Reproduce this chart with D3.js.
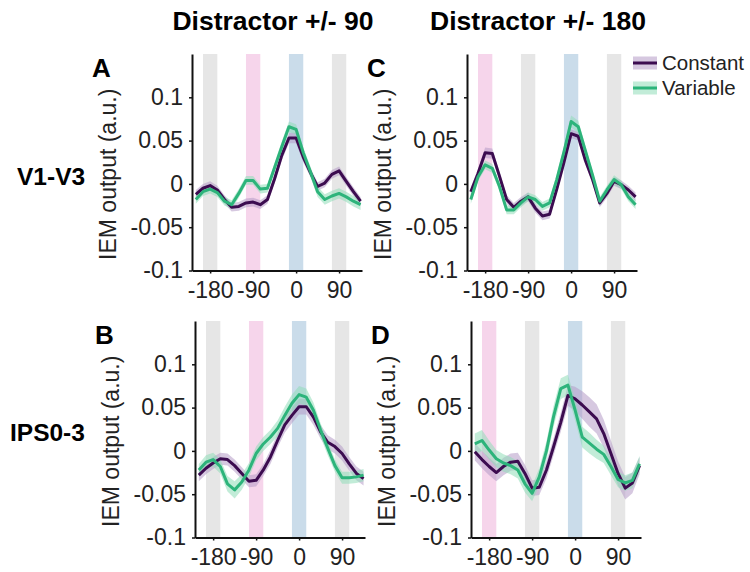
<!DOCTYPE html>
<html>
<head>
<meta charset="utf-8">
<script src="https://cdn.jsdelivr.net/npm/d3@7"></script>
<style>
  body { margin: 0; background: #fff; }
  svg { display: block; }
  text { font-family: "Liberation Sans", Arial, sans-serif; }
</style>
</head>
<body>
<svg id="chart" width="750" height="572"></svg>
<script>

// polar offset of each channel (deg) relative to target
var angles = [-210, -195, -180, -165, -150, -135, -120, -105, -90, -75, -60, -45,
              -30, -15, 0, 15, 30, 45, 60, 75, 90, 105, 120, 135];

// A: V1-V3, distractor +/- 90
var constA = [-0.012, -0.005, -0.002, -0.007, -0.018, -0.027, -0.026, -0.022, -0.021, -0.024, -0.018, 0.006,
              0.033, 0.053, 0.053, 0.031, 0.013, -0.003, 0.001, 0.011, 0.015, 0.003, -0.009, -0.020];
var varA = [-0.018, -0.009, -0.006, -0.010, -0.020, -0.024, -0.011, 0.004, 0.004, -0.006, -0.005, 0.019,
            0.043, 0.066, 0.063, 0.036, 0.014, -0.009, -0.018, -0.014, -0.011, -0.015, -0.020, -0.024];
var semConstA = [0.005, 0.005, 0.005, 0.005, 0.005, 0.005, 0.005, 0.005, 0.005, 0.005, 0.005, 0.005,
                 0.006, 0.006, 0.006, 0.006, 0.005, 0.005, 0.005, 0.005, 0.005, 0.005, 0.005, 0.005];
var semVarA = [0.005, 0.005, 0.005, 0.005, 0.005, 0.005, 0.005, 0.005, 0.005, 0.005, 0.005, 0.005,
               0.006, 0.006, 0.006, 0.006, 0.006, 0.006, 0.006, 0.006, 0.006, 0.006, 0.006, 0.006];

// B: IPS0-3, distractor +/- 90
var constB = [-0.028, -0.020, -0.014, -0.009, -0.010, -0.017, -0.026, -0.035, -0.034, -0.022, -0.007, 0.012,
              0.030, 0.041, 0.051, 0.051, 0.039, 0.022, 0.010, 0.005, -0.003, -0.015, -0.026, -0.032];
var varB = [-0.022, -0.013, -0.010, -0.018, -0.038, -0.045, -0.036, -0.022, -0.003, 0.008, 0.016, 0.026,
            0.041, 0.055, 0.065, 0.062, 0.047, 0.024, 0.003, -0.017, -0.031, -0.031, -0.030, -0.028];
var semConstB = [0.007, 0.007, 0.007, 0.007, 0.007, 0.007, 0.007, 0.007, 0.007, 0.007, 0.008, 0.008,
                 0.009, 0.009, 0.009, 0.009, 0.009, 0.008, 0.008, 0.008, 0.008, 0.008, 0.008, 0.008];
var semVarB = [0.007, 0.008, 0.008, 0.008, 0.009, 0.010, 0.009, 0.008, 0.008, 0.008, 0.008, 0.009,
               0.010, 0.010, 0.010, 0.010, 0.009, 0.008, 0.008, 0.007, 0.007, 0.007, 0.007, 0.007];

// C: V1-V3, distractor +/- 180
var constC = [-0.009, 0.012, 0.036, 0.035, 0.009, -0.018, -0.027, -0.020, -0.015, -0.028, -0.037, -0.035,
              -0.006, 0.025, 0.058, 0.055, 0.027, 0.005, -0.022, -0.011, 0.003, -0.001, -0.007, -0.015];
var varC = [-0.018, 0.008, 0.022, 0.018, -0.003, -0.030, -0.030, -0.022, -0.015, -0.018, -0.026, -0.022,
            0.005, 0.037, 0.072, 0.066, 0.038, 0.010, -0.020, -0.007, 0.005, -0.001, -0.015, -0.024];
var semConstC = [0.005, 0.005, 0.006, 0.006, 0.005, 0.005, 0.005, 0.005, 0.005, 0.005, 0.005, 0.005,
                 0.005, 0.005, 0.005, 0.005, 0.005, 0.005, 0.005, 0.005, 0.005, 0.005, 0.005, 0.005];
var semVarC = [0.005, 0.005, 0.005, 0.005, 0.005, 0.005, 0.005, 0.005, 0.005, 0.005, 0.005, 0.005,
               0.006, 0.006, 0.007, 0.007, 0.006, 0.005, 0.005, 0.005, 0.005, 0.005, 0.005, 0.005];

// D: IPS0-3, distractor +/- 180
var constD = [-0.001, -0.010, -0.018, -0.025, -0.018, -0.013, -0.012, -0.026, -0.043, -0.042, -0.022, 0.005,
              0.033, 0.064, 0.060, 0.053, 0.045, 0.037, 0.020, -0.003, -0.026, -0.043, -0.037, -0.017];
var varD = [0.008, 0.012, 0.001, -0.009, -0.014, -0.017, -0.022, -0.038, -0.049, -0.030, 0.000, 0.040,
            0.072, 0.076, 0.047, 0.016, 0.009, 0.002, -0.004, -0.018, -0.033, -0.037, -0.034, -0.015];
var semConstD = [0.010, 0.010, 0.010, 0.010, 0.010, 0.010, 0.010, 0.010, 0.009, 0.009, 0.010, 0.010,
                 0.011, 0.012, 0.014, 0.016, 0.017, 0.017, 0.016, 0.015, 0.014, 0.013, 0.012, 0.010];
var semVarD = [0.012, 0.012, 0.011, 0.010, 0.010, 0.010, 0.010, 0.010, 0.009, 0.010, 0.011, 0.012,
               0.012, 0.012, 0.012, 0.012, 0.012, 0.011, 0.010, 0.010, 0.009, 0.009, 0.009, 0.009];

var xTicks = [-180, -90, 0, 90];
var yTicks = [-0.1, -0.05, 0, 0.05, 0.1];
var columnTitles = ["Distractor +/- 90", "Distractor +/- 180"];
var rowTitles = ["V1-V3", "IPS0-3"];
var seriesNames = ["Constant", "Variable"];

// shaded bands: [centre, kind]
var bands90 = [[-180, "grey"], [-90, "pink"], [0, "blue"], [90, "grey"]];
var bands180 = [[-180, "pink"], [-90, "grey"], [0, "blue"], [90, "grey"]];

var BAND_COLORS = { grey: "#e6e6e6", pink: "#f6d5eb", blue: "#cadcea" };
var LINE_COLORS = ["#3c0c50", "#2db47b"];
var FILL_COLORS = ["#b49ac6", "#8fdcb8"];

var panels = [
  { letter: "A", left: 192, top: 54, bands: bands90, c: constA, v: varA, ec: semConstA, ev: semVarA },
  { letter: "B", left: 195, top: 321, bands: bands90, c: constB, v: varB, ec: semConstB, ev: semVarB },
  { letter: "C", left: 467, top: 54, bands: bands180, c: constC, v: varC, ec: semConstC, ev: semVarC },
  { letter: "D", left: 471, top: 321, bands: bands180, c: constD, v: varD, ec: semConstD, ev: semVarD }
];
var PW = 170, PH = 216.5;

var svg = d3.select("#chart");

// column titles
svg.selectAll(".coltitle")
  .data(columnTitles)
  .enter().append("text")
  .attr("x", function(d, i) { return i == 0 ? 273 : 538; })
  .attr("y", 30)
  .attr("text-anchor", "middle")
  .style("font-weight", "bold")
  .style("font-size", "26.5px")
  .text(function(d) { return d; });

// row titles
svg.selectAll(".rowtitle")
  .data(rowTitles)
  .enter().append("text")
  .attr("x", function(d, i) { return i == 0 ? 17 : 10; })
  .attr("y", function(d, i) { return i == 0 ? 185 : 441; })
  .style("font-weight", "bold")
  .style("font-size", "24.5px")
  .text(function(d) { return d; });

panels.forEach(function(p) {
  var x = d3.scaleLinear().domain([-218, 138]).range([p.left, p.left + PW]);
  var y = d3.scaleLinear().domain([-0.1, 0.15]).range([p.top + PH, p.top]);
  var g = svg.append("g");

  g.selectAll(".band")
    .data(p.bands)
    .enter().append("rect")
    .attr("x", function(d) { return x(d[0] - 15); })
    .attr("width", function(d) { return x(d[0] + 15) - x(d[0] - 15); })
    .attr("y", p.top)
    .attr("height", PH)
    .attr("fill", function(d) { return BAND_COLORS[d[1]]; });

  var series = [{ m: p.c, e: p.ec }, { m: p.v, e: p.ev }];

  var area = function(s) {
    return d3.area()
      .x(function(d, i) { return x(angles[i]); })
      .y0(function(d, i) { return y(s.m[i] - s.e[i]); })
      .y1(function(d, i) { return y(s.m[i] + s.e[i]); })(s.m);
  };
  var line = d3.line()
    .x(function(d, i) { return x(angles[i]); })
    .y(function(d) { return y(d); });

  series.forEach(function(s, k) {
    g.append("path")
      .attr("d", area(s))
      .attr("fill", FILL_COLORS[k])
      .attr("fill-opacity", 0.55);
  });
  series.forEach(function(s, k) {
    g.append("path")
      .attr("d", line(s.m))
      .attr("fill", "none")
      .attr("stroke", LINE_COLORS[k])
      .attr("stroke-width", 3)
      .attr("stroke-linejoin", "round");
  });

  // axes
  var yAxis = d3.axisLeft(y).tickValues(yTicks).tickSize(3).tickSizeOuter(0).tickPadding(6)
    .tickFormat(function(d) { return String(d); });
  var xAxis = d3.axisBottom(x).tickValues(xTicks).tickSize(3).tickSizeOuter(0).tickPadding(8)
    .tickFormat(function(d) { return String(d); });

  var ya = g.append("g").attr("transform", "translate(" + p.left + ",0)").call(yAxis);
  var xa = g.append("g").attr("transform", "translate(0," + (p.top + PH) + ")").call(xAxis);
  [ya, xa].forEach(function(a) {
    a.select(".domain").attr("stroke", "#111").attr("stroke-width", 2);
    a.selectAll(".tick line").attr("stroke", "#111").attr("stroke-width", 1.5);
    a.selectAll("text")
      .style("font-family", "'Liberation Sans', Arial, sans-serif")
      .style("font-size", "23px")
      .attr("fill", "#222");
  });

  // y label
  g.append("text")
    .attr("transform", "translate(" + (p.left - 76) + "," + (p.top + PH / 2 + 12) + ") rotate(-90)")
    .attr("text-anchor", "middle")
    .style("font-size", "23px")
    .attr("fill", "#222")
    .text("IEM output (a.u.)");

  // panel letter
  g.append("text")
    .attr("x", p.left - 100)
    .attr("y", p.top + 23)
    .style("font-weight", "bold")
    .style("font-size", "26px")
    .text(p.letter);
});

// legend
var legend = svg.append("g");
seriesNames.forEach(function(name, k) {
  var ly = 63 + k * 25;
  legend.append("rect")
    .attr("x", 633).attr("y", ly - 6.5).attr("width", 24).attr("height", 13)
    .attr("fill", FILL_COLORS[k]).attr("fill-opacity", 0.55);
  legend.append("line")
    .attr("x1", 633).attr("x2", 657).attr("y1", ly).attr("y2", ly)
    .attr("stroke", LINE_COLORS[k]).attr("stroke-width", 3);
  legend.append("text")
    .attr("x", 662).attr("y", ly + 7)
    .style("font-size", "20.5px")
    .attr("fill", "#222")
    .text(name);
});
</script>
</body>
</html>
